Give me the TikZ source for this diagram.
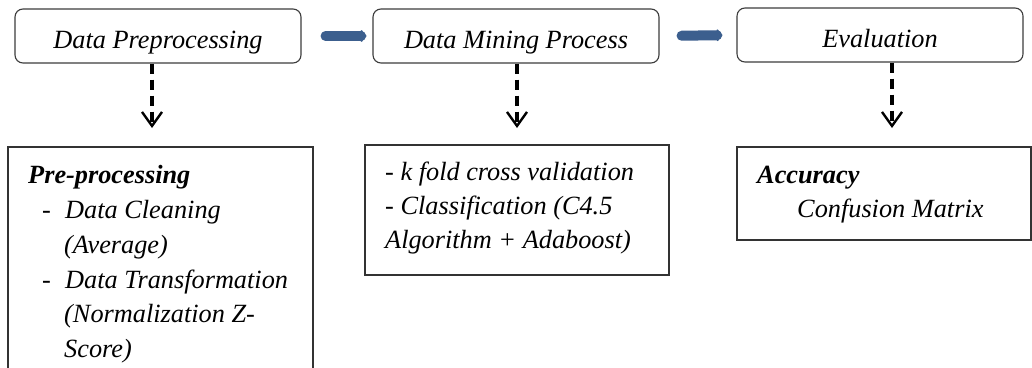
\documentclass[tikz,border=0pt]{standalone}
\usepackage{fontspec}
\setmainfont{Liberation Serif}
\usetikzlibrary{arrows.meta}
\definecolor{flowblue}{RGB}{60,95,142}
\definecolor{boxgray}{RGB}{60,60,60}
\tikzset{
  stagebox/.style={draw=boxgray, line width=1.1pt, rounded corners=8pt, fill=white,
    minimum width=286pt, minimum height=54pt, inner sep=0pt,
    text height=24pt, text depth=0pt,
    font=\fontsize{26.3}{30}\selectfont\itshape},
  detailbox/.style={draw=black!80, line width=1.1pt, fill=white, inner sep=0pt},
  txt/.style={inner sep=0pt, anchor=base west, font=\fontsize{26.3}{35}\selectfont\itshape},
  flow/.style={draw=flowblue, line width=10pt, line cap=round,
    -{Triangle[length=6pt,width=14pt,round]}},
  drop/.style={draw=black, line width=3.4pt, dash pattern=on 10pt off 6pt,
    -{Straight Barb[length=14pt,width=20pt,line width=2.4pt]}}
}
\begin{document}
\begin{tikzpicture}[x=1pt,y=-1pt]
\useasboundingbox (0,0) rectangle (1032,367);
\fill[white] (0,0) rectangle (1032,367);
% top stages
\node[stagebox] (b1) at (158,36) {Data Preprocessing};
\node[stagebox] (b2) at (516,36) {Data Mining Process};
\node[stagebox] (b3) at (880,35) {Evaluation};
% blue flow arrows
\draw[flow, shorten <=24pt, shorten >=6pt] (b1.east) -- (b2.west);
\draw[flow, shorten <=22pt, shorten >=14pt] (b2.east) -- (b3.west);
% lower boxes
\node[detailbox, minimum width=305pt, minimum height=260pt] (d1) at (160.5,277) {};
\node[detailbox, minimum width=304pt, minimum height=130pt] (d2) at (517,210) {};
\node[detailbox, minimum width=294pt, minimum height=93pt] (d3) at (884,193.5) {};
% dashed arrows
\coordinate (t1) at (152,128);
\coordinate (t2) at (517,128);
\coordinate (t3) at (892,128);
\draw[drop] (b1.south -| t1) -- (t1);
\draw[drop] (b2.south -| t2) -- (t2);
\draw[drop] (b3.south -| t3) -- (t3);
% left box text
\node[txt] (p0) at (28,183) {\bfseries Pre-processing};
\node[txt] (p1d) at (42,218) {-};
\node[txt] (p1) at (65,218) {Data Cleaning};
\node[txt] (p1b) at (64,253) {(Average)};
\node[txt] (p2d) at (42,288) {-};
\node[txt] (p2) at (65,288) {Data Transformation};
\node[txt] (p2b) at (64,322) {(Normalization Z-};
\node[txt] (p2c) at (64,357) {Score)};
% middle box text
\node[txt] (m1) at (385,180) {- k fold cross validation};
\node[txt] (m2) at (385,214) {- Classification (C4.5};
\node[txt] (m3) at (385,248) {Algorithm + Adaboost)};
% right box text
\node[txt] (e1) at (757,183) {\bfseries Accuracy};
\node[txt] (e2) at (797,217) {Confusion Matrix};
\end{tikzpicture}
\end{document}
